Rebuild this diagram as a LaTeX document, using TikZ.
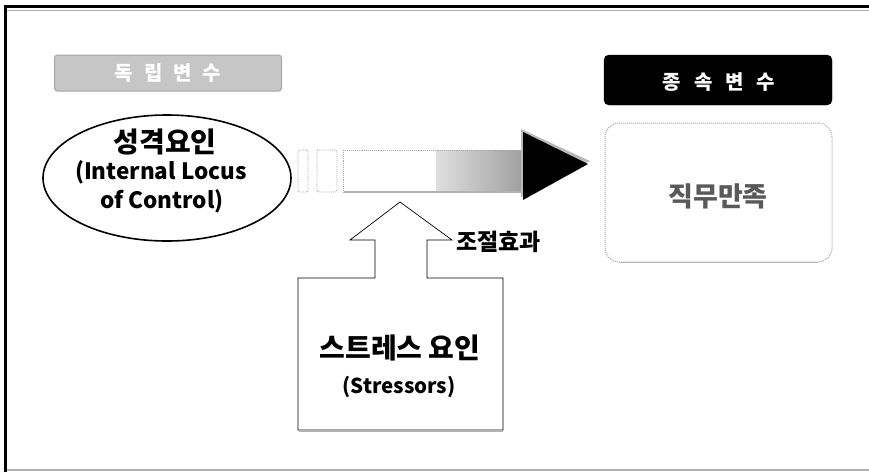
\documentclass[tikz,border=0pt]{standalone}
\usepackage{fontspec}
\setmainfont{Noto Sans CJK KR}
\usetikzlibrary{shapes.geometric}
\begin{document}
\begin{tikzpicture}[x=1pt,y=-1pt,
  lbl/.style={font=\bfseries, inner sep=0pt},
  hatch/.style={draw=gray!70, densely dotted, line width=0.9pt}]
\useasboundingbox (0,0) rectangle (869,472);
% outer frame
\draw[gray!60, line width=1.5pt] (6,470) -- (869,470);
\draw[black, line width=3pt] (5,472) -- (5,6.5) -- (869,6.5);
\draw[gray!60, line width=1pt] (7,10) -- (869,10);

% independent variable label
\node[draw=gray!70, line width=1pt, fill=gray!45, rounded corners=3pt,
  minimum width=227, minimum height=36, inner sep=0pt] (iv) at (168,73) {};
\node[lbl, text=white, font=\bfseries\fontsize{20}{20}\selectfont] (ivt) at (168,73) {독\hspace{11pt}립\hspace{11pt}변\hspace{11pt}수};

% dependent variable label
\node[draw=black, fill=black, rounded corners=5pt,
  minimum width=228, minimum height=50, inner sep=0pt] (dv) at (718,80) {};
\node[lbl, text=white, font=\bfseries\fontsize{20}{20}\selectfont] (dvt) at (719,82) {종\hspace{13pt}속\hspace{13pt}변\hspace{13pt}수};

% job satisfaction box
\node[draw=gray!70, densely dotted, line width=1pt, rounded corners=14pt,
  minimum width=227, minimum height=139, inner sep=0pt] (js) at (718.5,192.5) {};
\draw[gray!60, line width=1.5pt] ([xshift=-15pt]js.south east) -- ([xshift=15pt]js.south west);
\node[text=gray!70!black, font=\bfseries\fontsize{27}{27}\selectfont] (jst) at (718,196) {직무만족};

% personality ellipse
\node[ellipse, draw=black, line width=1.6pt, minimum width=248, minimum height=126, inner sep=0pt] (pe) at (167,178) {};
\node[font=\bfseries\fontsize{28}{28}\selectfont, inner sep=0pt] (pe1) at (165,142) {성격요인};
\node[font=\bfseries\fontsize{22.5}{22.5}\selectfont, inner sep=0pt] (pe2) at (161,172) {(Internal Locus};
\node[font=\bfseries\fontsize{22.5}{22.5}\selectfont, inner sep=0pt] (pe3) at (162,201) {of Control)};

% big arrow
\node[hatch, rounded corners=2pt, minimum width=10, minimum height=42, inner sep=0pt] (r1) at (303,171) {};
\node[hatch, rounded corners=2pt, minimum width=20, minimum height=42, inner sep=0pt] (r2) at (327,171) {};
\coordinate (sh1) at (343,150);
\coordinate (sh2) at (436,192);
\coordinate (sh3) at (523,192);
\fill[white] (sh1) rectangle (sh2);
\shade[left color=gray!25, right color=gray!75] (436,150) rectangle (sh3);
\draw[hatch] (sh1) rectangle (sh3);
\draw[gray!60, line width=2pt] (344,192) -- (sh3);
\coordinate (ht) at (523,132);
\coordinate (hb) at (523,200);
\coordinate (tip) at (588,164);
\fill[gray!55] ([xshift=-2pt,yshift=3pt]ht) -- ([xshift=2pt,yshift=3pt]tip) -- ([xshift=-2pt,yshift=3pt]hb) -- cycle;
\fill[black] (ht) -- (tip) -- (hb) -- cycle;

% stressor arrow box
\coordinate (at) at (400,202);
\draw[black, line width=0.7pt] (at) -- (452,240) -- (427,240) -- (427,278) -- (503,278)
  -- (503,430) -- (298,430) -- (298,278) -- (375,278) -- (375,240) -- (350,240) -- cycle;
\draw[gray!60, line width=1.2pt] (299,431) -- (503,431);
\node[font=\bfseries\fontsize{23}{23}\selectfont, inner sep=0pt, anchor=west] (mod) at (456,242) {조절효과};
\node[font=\bfseries\fontsize{28}{28}\selectfont, inner sep=0pt] (st1) at (400,348) {스트레스 요인};
\node[font=\bfseries\fontsize{20.5}{20.5}\selectfont, inner sep=0pt] (st2) at (399,387) {(Stressors)};
\end{tikzpicture}
\end{document}
